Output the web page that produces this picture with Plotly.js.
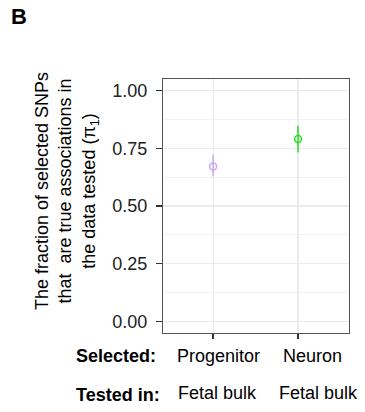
<!DOCTYPE html>
<html><head><meta charset="utf-8">
<script src="https://cdn.plot.ly/plotly-3.0.1.min.js"></script>
<style>html,body{margin:0;padding:0;background:#fff}#c{width:365px;height:412px}</style>
</head><body><div id="c"></div>
<script>
var selected = ["Progenitor", "Neuron"];
var testedIn = ["Fetal bulk", "Fetal bulk"];
var pi1 = [0.671, 0.790];
var upper = [0.722, 0.847];
var lower = [0.628, 0.732];
var colors = ["#c9a9ee", "#22e022"];
var yTicks = [0, 0.25, 0.5, 0.75, 1.0];
var yTickText = ["0.00", "0.25", "0.50", "0.75", "1.00"];

var F = "Arial, 'Liberation Sans', sans-serif";
var FS = 18;
var traces = selected.map(function(s, i){
  return {
    type: "scatter", mode: "markers", x: [s], y: [pi1[i]],
    error_y: {type: "data", symmetric: false, array: [upper[i]-pi1[i]], arrayminus: [pi1[i]-lower[i]],
      color: colors[i], thickness: 1.5, width: 0},
    marker: {symbol: "circle-open", size: 7, color: colors[i], line: {width: 1.5, color: colors[i]}},
    showlegend: false, hoverinfo: "skip"
  };
});
var W = 186, H = 254, L = 163, T = 79;
function px(x){ return (x - L) / W; }
function py(y){ return 1 - (y - T) / H; }
var ann = [
  {text: "<b>B</b>", xref: "paper", yref: "paper", x: px(9), y: py(16), xanchor: "left", yanchor: "middle", showarrow: false, font: {family: F, size: 22, color: "#000"}},
  {text: "The fraction of selected SNPs<br>that  are true associations in<br>the data tested (π<sub>1</sub>)", xref: "paper", yref: "paper",
   x: px(67), y: py(191), xanchor: "center", yanchor: "middle", textangle: -90, showarrow: false,
   font: {family: F, size: FS, color: "#000"}},
  {text: "<b>Selected:</b>", xref: "paper", yref: "paper", x: px(74), y: py(356), xanchor: "left", yanchor: "middle", showarrow: false, font: {family: F, size: FS, color: "#000"}},
  {text: "<b>Tested in:</b>", xref: "paper", yref: "paper", x: px(74), y: py(395), xanchor: "left", yanchor: "middle", showarrow: false, font: {family: F, size: FS, color: "#000"}}
];
var selShift = [5, 14];
var testShift = [4, 20];
selected.forEach(function(s, i){
  ann.push({text: s, xref: "x", yref: "paper", x: s, y: py(356), xshift: selShift[i], xanchor: "center", yanchor: "middle", showarrow: false, font: {family: F, size: FS, color: "#000"}});
  ann.push({text: testedIn[i], xref: "x", yref: "paper", x: s, y: py(393), xshift: testShift[i], xanchor: "center", yanchor: "middle", showarrow: false, font: {family: F, size: FS, color: "#000"}});
});
var layout = {
  width: 365, height: 412,
  margin: {l: L, r: 16, t: T, b: 79},
  paper_bgcolor: "#fff", plot_bgcolor: "#fff",
  xaxis: {type: "category", range: [-0.59, 1.6], tickvals: selected, showticklabels: false,
    showgrid: true, gridcolor: "#ebebeb", gridwidth: 1.2,
    ticks: "outside", ticklen: 5, tickwidth: 1.3, tickcolor: "#333",
    showline: true, linecolor: "#555", linewidth: 1, mirror: true, zeroline: false, fixedrange: true},
  yaxis: {range: [-0.05, 1.05], tickvals: yTicks, ticktext: yTickText,
    showgrid: true, gridcolor: "#ebebeb", gridwidth: 1.2,
    minor: {dtick: 0.125, tick0: 0.125, showgrid: true, gridcolor: "#f2f2f2", gridwidth: 1, ticks: ""},
    ticks: "outside", ticklen: 6, tickwidth: 1.3, tickcolor: "#333",
    ticklabelstandoff: 5,
    tickfont: {family: F, size: FS, color: "#222"},
    showline: true, linecolor: "#555", linewidth: 1, mirror: true, zeroline: false, fixedrange: true},
  annotations: ann
};
Plotly.newPlot("c", traces, layout, {displayModeBar: false, staticPlot: true});
</script></body></html>
